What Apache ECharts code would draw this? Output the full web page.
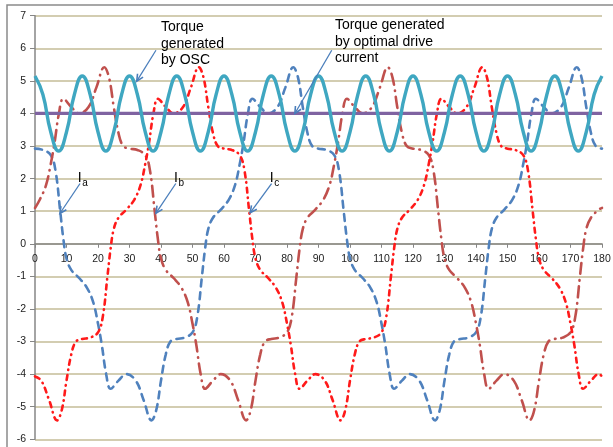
<!DOCTYPE html>
<html><head><meta charset="utf-8">
<script src="https://cdn.jsdelivr.net/npm/echarts@6/dist/echarts.min.js"></script>
<style>html,body{margin:0;padding:0;background:#fff}#c{width:613px;height:447px}</style>
</head><body><div id="c"></div>
<script>
// ---- data (angle in degrees, value) ----
const torqueOSC = [
[0,5.15],[2.5,4.58],[5,3.43],[7.5,2.85],[10,3.43],[12.5,4.58],
[15,5.15],[17.5,4.58],[20,3.43],[22.5,2.85],[25,3.43],[27.5,4.58],
[30,5.15],[32.5,4.58],[35,3.43],[37.5,2.85],[40,3.43],[42.5,4.58],
[45,5.15],[47.5,4.58],[50,3.43],[52.5,2.85],[55,3.43],[57.5,4.58],
[60,5.15],[62.5,4.58],[65,3.43],[67.5,2.85],[70,3.43],[72.5,4.58],
[75,5.15],[77.5,4.58],[80,3.43],[82.5,2.85],[85,3.43],[87.5,4.58],
[90,5.15],[92.5,4.58],[95,3.43],[97.5,2.85],[100,3.43],[102.5,4.58],
[105,5.15],[107.5,4.58],[110,3.43],[112.5,2.85],[115,3.43],[117.5,4.58],
[120,5.15],[122.5,4.58],[125,3.43],[127.5,2.85],[130,3.43],[132.5,4.58],
[135,5.15],[137.5,4.58],[140,3.43],[142.5,2.85],[145,3.43],[147.5,4.58],
[150,5.15],[152.5,4.58],[155,3.43],[157.5,2.85],[160,3.43],[162.5,4.58],
[165,5.15],[167.5,4.58],[170,3.43],[172.5,2.85],[175,3.43],[177.5,4.58],
[180,5.15]];
const torqueOpt = [[0,4],[180,4]];
const ia = [
[0,2.92],[2.5,2.88],[5,2.72],[6.5,2.25],[8,1.0],[9,0.15],[10,-0.45],[11.5,-0.8],[14,-1.05],[16.5,-1.35],
[18.5,-1.8],[20,-2.45],[21.2,-3.1],[22.6,-4.0],[24,-4.45],[26.5,-4.2],[29,-4.0],[32,-4.2],[34.5,-4.8],[37,-5.42],
[38.5,-5.1],[40,-4.2],[41.5,-3.4],[43,-3.0],[45,-2.92],[47.5,-2.88],[50,-2.72],[51.5,-2.25],[53,-1.0],[54,-0.15],
[55,0.45],[56.5,0.8],[59,1.05],[61.5,1.35],[63.5,1.8],[65,2.45],[66.2,3.1],[67.6,4.0],[69,4.45],[71.5,4.2],
[74,4.0],[77,4.2],[79.5,4.8],[82,5.42],[83.5,5.1],[85,4.2],[86.5,3.4],[88,3.0],
[90,2.92],[92.5,2.88],[95,2.72],[96.5,2.25],[98,1.0],[99,0.15],[100,-0.45],[101.5,-0.8],[104,-1.05],[106.5,-1.35],
[108.5,-1.8],[110,-2.45],[111.2,-3.1],[112.6,-4.0],[114,-4.45],[116.5,-4.2],[119,-4.0],[122,-4.2],[124.5,-4.8],[127,-5.42],
[128.5,-5.1],[130,-4.2],[131.5,-3.4],[133,-3.0],[135,-2.92],[137.5,-2.88],[140,-2.72],[141.5,-2.25],[143,-1.0],[144,-0.15],
[145,0.45],[146.5,0.8],[149,1.05],[151.5,1.35],[153.5,1.8],[155,2.45],[156.2,3.1],[157.6,4.0],[159,4.45],[161.5,4.2],
[164,4.0],[167,4.2],[169.5,4.8],[172,5.42],[173.5,5.1],[175,4.2],[176.5,3.4],[178,3.0],[180,2.92]];
const ib = [
[0,1.1],[1.5,1.35],[3.5,1.8],[5,2.45],[6.2,3.1],[7.6,4.0],[9,4.45],[11.5,4.2],[14,4.0],[17,4.2],
[19.5,4.8],[22,5.42],[23.5,5.1],[25,4.2],[26.5,3.4],[28,3.0],[30,2.92],[32.5,2.88],[35,2.72],[36.5,2.25],
[38,1.0],[39,0.15],[40,-0.45],[41.5,-0.8],[44,-1.05],[46.5,-1.35],[48.5,-1.8],[50,-2.45],[51.2,-3.1],[52.6,-4.0],
[54,-4.45],[56.5,-4.2],[59,-4.0],[62,-4.2],[64.5,-4.8],[67,-5.42],[68.5,-5.1],[70,-4.2],[71.5,-3.4],[73,-3.0],
[75,-2.92],[77.5,-2.88],[80,-2.72],[81.5,-2.25],[83,-1.0],[84,-0.15],[85,0.45],[86.5,0.8],[89,1.05],
[91.5,1.35],[93.5,1.8],[95,2.45],[96.2,3.1],[97.6,4.0],[99,4.45],[101.5,4.2],[104,4.0],[107,4.2],
[109.5,4.8],[112,5.42],[113.5,5.1],[115,4.2],[116.5,3.4],[118,3.0],[120,2.92],[122.5,2.88],[125,2.72],[126.5,2.25],
[128,1.0],[129,0.15],[130,-0.45],[131.5,-0.8],[134,-1.05],[136.5,-1.35],[138.5,-1.8],[140,-2.45],[141.2,-3.1],[142.6,-4.0],
[144,-4.45],[146.5,-4.2],[149,-4.0],[152,-4.2],[154.5,-4.8],[157,-5.42],[158.5,-5.1],[160,-4.2],[161.5,-3.4],[163,-3.0],
[165,-2.92],[167.5,-2.88],[170,-2.72],[171.5,-2.25],[173,-1.0],[174,-0.15],[175,0.45],[176.5,0.8],[179,1.05],[180,1.1]];
const ic = [
[0,-4.07],[2,-4.2],[4.5,-4.8],[7,-5.42],[8.5,-5.1],[10,-4.2],[11.5,-3.4],[13,-3.0],[15,-2.92],[17.5,-2.88],
[20,-2.72],[21.5,-2.25],[23,-1.0],[24,-0.15],[25,0.45],[26.5,0.8],[29,1.05],[31.5,1.35],[33.5,1.8],[35,2.45],
[36.2,3.1],[37.6,4.0],[39,4.45],[41.5,4.2],[44,4.0],[47,4.2],[49.5,4.8],[52,5.42],[53.5,5.1],[55,4.2],
[56.5,3.4],[58,3.0],[60,2.92],[62.5,2.88],[65,2.72],[66.5,2.25],[68,1.0],[69,0.15],[70,-0.45],[71.5,-0.8],
[74,-1.05],[76.5,-1.35],[78.5,-1.8],[80,-2.45],[81.2,-3.1],[82.6,-4.0],[84,-4.45],[86.5,-4.2],[89,-4.0],
[92,-4.2],[94.5,-4.8],[97,-5.42],[98.5,-5.1],[100,-4.2],[101.5,-3.4],[103,-3.0],[105,-2.92],[107.5,-2.88],
[110,-2.72],[111.5,-2.25],[113,-1.0],[114,-0.15],[115,0.45],[116.5,0.8],[119,1.05],[121.5,1.35],[123.5,1.8],[125,2.45],
[126.2,3.1],[127.6,4.0],[129,4.45],[131.5,4.2],[134,4.0],[137,4.2],[139.5,4.8],[142,5.42],[143.5,5.1],[145,4.2],
[146.5,3.4],[148,3.0],[150,2.92],[152.5,2.88],[155,2.72],[156.5,2.25],[158,1.0],[159,0.15],[160,-0.45],[161.5,-0.8],
[164,-1.05],[166.5,-1.35],[168.5,-1.8],[170,-2.45],[171.2,-3.1],[172.6,-4.0],[174,-4.45],[176.5,-4.2],[179,-4.0],[180,-4.07]];
const xRange = [0, 180], xStep = 10;
const yRange = [-6, 7], yStep = 1;
// annotations in data coordinates
const notes = [
  {text:'Torque\ngenerated\nby OSC', at:[40,6.9], from:[38.4,5.94], to:[32.3,4.99]},
  {text:'Torque generated\nby optimal drive\ncurrent', at:[95.2,6.96], from:[94.2,5.94], to:[82.5,4.0]}
];
const currentLabels = [
  {main:'I', sub:'a', at:[13.6,2.22], from:[14.3,1.85], to:[7.9,0.93]},
  {main:'I', sub:'b', at:[44.1,2.22], from:[44.7,1.85], to:[38.4,0.94]},
  {main:'I', sub:'c', at:[74.5,2.22], from:[75.1,1.85], to:[68.3,0.95]}
];

const FONT = 'Liberation Sans, Arial, sans-serif';
const chart = echarts.init(document.getElementById('c'), null, {renderer:'canvas'});
function cur(name, data, color, dash){
  return {name, type:'line', data, smooth:0.4, showSymbol:false, symbol:'none',
    lineStyle:{color, width:2.6, type:dash, cap:'round'}, z:2};
}
chart.setOption({
  animation:false,
  backgroundColor:'#fff',
  grid:{left:35, right:11, top:15.7, bottom:7.7, containLabel:false, outerBoundsMode:'none'},
  xAxis:{type:'value', min:xRange[0], max:xRange[1], interval:xStep, position:'bottom',
    axisLine:{onZero:false, lineStyle:{color:'#868686', width:1.5}},
    axisTick:{show:true, length:4, lineStyle:{color:'#868686', width:1}},
    axisLabel:{show:true, fontSize:10.5, color:'#222', fontFamily:FONT, margin:10, hideOverlap:false},
    splitLine:{show:false}},
  yAxis:{type:'value', min:yRange[0], max:yRange[1], interval:yStep,
    axisLine:{show:true, onZero:false, lineStyle:{color:'#868686', width:1.5}},
    axisTick:{show:true, length:5, lineStyle:{color:'#868686', width:1}},
    axisLabel:{fontSize:10.5, color:'#222', fontFamily:FONT, margin:9},
    splitLine:{show:true, lineStyle:{color:'#c4bd97', width:1.6}}},
  series:[
    cur('Ia', ia, '#4f81bd', [7,6]),
    cur('Ib', ib, '#c0504d', [11,6,0.5,6]),
    cur('Ic', ic, '#ff1a1a', [5,5,0.5,5]),
    {name:'Torque generated by optimal drive current', type:'line', data:torqueOpt, showSymbol:false, symbol:'none',
      lineStyle:{color:'#7f63a1', width:3.2}, z:3},
    {name:'Torque generated by OSC', type:'line', data:torqueOSC, smooth:0.5, showSymbol:false, symbol:'none',
      lineStyle:{color:'#3fa7c1', width:3.4}, z:4}
  ]
});

// move the x axis (line, ticks, labels) up onto the value-0 line, located through the library's y scale
(function(){
  const zeroY = chart.convertToPixel({yAxisIndex:0}, 0);
  const bottomY = chart.convertToPixel({yAxisIndex:0}, yRange[0]);
  chart.setOption({xAxis:{offset:-(bottomY - zeroY)}});
})();

function px(p){ return chart.convertToPixel({xAxisIndex:0, yAxisIndex:0}, p); }
function arrow(from, to){
  const a = px(from), b = px(to);
  const ang = Math.atan2(b[1]-a[1], b[0]-a[0]);
  const L = 7.5, s = 0.45;
  const p1 = [b[0]-L*Math.cos(ang-s), b[1]-L*Math.sin(ang-s)];
  const p2 = [b[0]-L*Math.cos(ang+s), b[1]-L*Math.sin(ang+s)];
  return [
    {type:'line', shape:{x1:a[0], y1:a[1], x2:b[0], y2:b[1]}, style:{stroke:'#4a7ebb', lineWidth:1.3}, z:10},
    {type:'polyline', shape:{points:[p1, b, p2]}, style:{stroke:'#4a7ebb', lineWidth:1.6, fill:null}, z:10}
  ];
}
const g = [];
g.push({type:'rect', shape:{x:7, y:5, width:640, height:480}, style:{fill:null, stroke:'#8a8a8a', lineWidth:1.5}, z:0, silent:true});
notes.forEach(n => {
  const p = px(n.at);
  g.push({type:'text', x:p[0], y:p[1], style:{text:n.text, fontSize:14, fontFamily:FONT, fill:'#000', lineHeight:16.5, align:'left', verticalAlign:'top'}, z:10});
  arrow(n.from, n.to).forEach(e => g.push(e));
});
currentLabels.forEach(n => {
  const p = px(n.at);
  g.push({type:'text', x:p[0], y:p[1], style:{text:n.main, fontSize:14, fontFamily:FONT, fill:'#000', align:'left', verticalAlign:'top'}, z:10});
  g.push({type:'text', x:p[0]+4.5, y:p[1]+7, style:{text:n.sub, fontSize:10, fontFamily:FONT, fill:'#000', align:'left', verticalAlign:'top'}, z:10});
  arrow(n.from, n.to).forEach(e => g.push(e));
});
chart.setOption({graphic:{elements:g}});
</script>
</body></html>
